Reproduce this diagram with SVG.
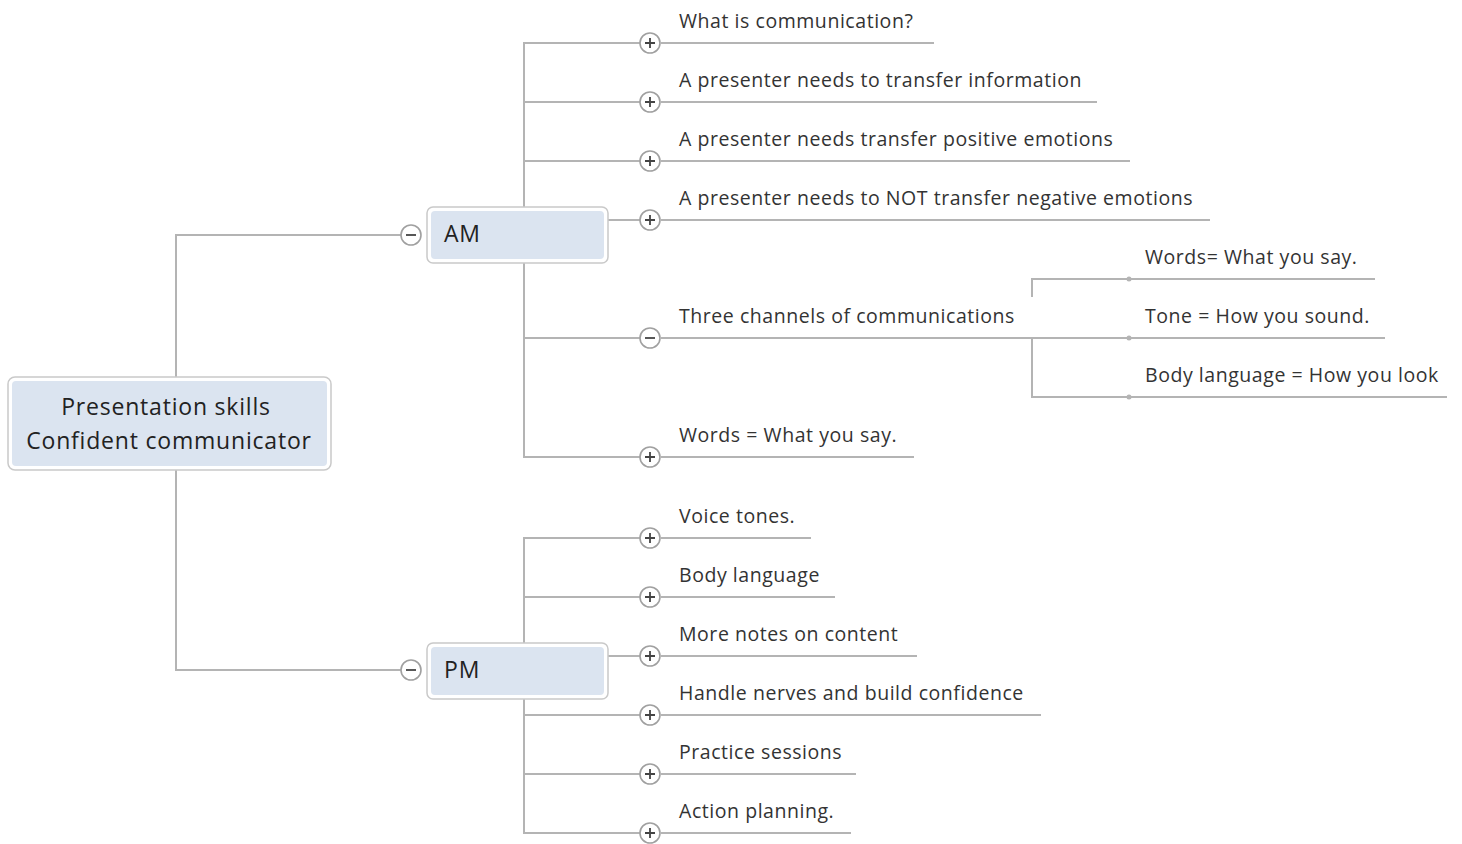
<svg xmlns="http://www.w3.org/2000/svg" width="1462" height="844" viewBox="0 0 1462 844">
<style>
.ln{stroke:#b4b4b4;stroke-width:2;fill:none}
.outer{fill:#ffffff;stroke:#c9c9c9;stroke-width:1.5}
.inner{fill:#dbe4f0;stroke:none}
.t{font-family:"Open Sans","Liberation Sans",sans-serif;font-size:19.5px;letter-spacing:0.55px;fill:#333333}
.big{font-family:"Open Sans","Liberation Sans",sans-serif;font-size:23px;letter-spacing:0.8px;fill:#222222}
.btn circle{fill:#ffffff;stroke:#a0a0a0;stroke-width:1.6}
.btn path{stroke:#444444;stroke-width:1.8;fill:none}
.dot{fill:#b4b4b4}
</style>
<defs>
<g id="plus" class="btn"><circle r="10"/><path d="M-5 0H5M0 -5V5"/></g>
<g id="minus" class="btn"><circle r="10"/><path d="M-5 0H5"/></g>
</defs>
<g id="connectors">
<path class="ln" d="M176 377V235H401M176 470V670H401"/>
<path class="ln" d="M524 207V43H640M524 102H640M524 161H640M608 220H640M524 263V457H640M524 338H640"/>
<path class="ln" d="M661 43H934M661 102H1097M661 161H1130M661 220H1210M661 338H1032M661 457H914"/>
<path class="ln" d="M1032 297V279H1375M1032 338V397H1447M1032 338H1385"/>
<path class="ln" d="M524 643V538H640M524 597H640M608 656H640M524 699V833H640M524 715H640M524 774H640"/>
<path class="ln" d="M661 538H811M661 597H835M661 656H917M661 715H1041M661 774H856M661 833H851"/>
<circle class="dot" cx="1129" cy="279" r="2.5"/>
<circle class="dot" cx="1129" cy="338" r="2.5"/>
<circle class="dot" cx="1129" cy="397" r="2.5"/>
</g>
<g id="root">
<rect class="outer" x="8" y="377" width="323" height="93" rx="7"/>
<rect class="inner" x="12" y="381" width="315" height="85" rx="4"/>
<text class="big" x="166" y="415" text-anchor="middle">Presentation skills</text>
<text class="big" x="169" y="449" text-anchor="middle">Confident communicator</text>
</g>
<g id="am">
<rect class="outer" x="427" y="207" width="181" height="56" rx="6"/>
<rect class="inner" x="431" y="211" width="173" height="48" rx="4"/>
<text class="big" x="444" y="242">AM</text>
<use href="#minus" x="411" y="235"/>
</g>
<g id="pm">
<rect class="outer" x="427" y="643" width="181" height="56" rx="6"/>
<rect class="inner" x="431" y="647" width="173" height="48" rx="4"/>
<text class="big" x="444" y="678">PM</text>
<use href="#minus" x="411" y="670"/>
</g>
<g id="am1"><use href="#plus" x="650" y="43"/><text class="t" x="679" y="28">What is communication?</text></g>
<g id="am2"><use href="#plus" x="650" y="102"/><text class="t" x="679" y="87">A presenter needs to transfer information</text></g>
<g id="am3"><use href="#plus" x="650" y="161"/><text class="t" x="679" y="146">A presenter needs transfer positive emotions</text></g>
<g id="am4"><use href="#plus" x="650" y="220"/><text class="t" x="679" y="205">A presenter needs to NOT transfer negative emotions</text></g>
<g id="am5"><use href="#minus" x="650" y="338"/><text class="t" x="679" y="323">Three channels of communications</text></g>
<g id="am5a"><text class="t" x="1145" y="264">Words= What you say.</text></g>
<g id="am5b"><text class="t" x="1145" y="323">Tone = How you sound.</text></g>
<g id="am5c"><text class="t" x="1145" y="382">Body language = How you look</text></g>
<g id="am6"><use href="#plus" x="650" y="457"/><text class="t" x="679" y="442">Words = What you say.</text></g>
<g id="pm1"><use href="#plus" x="650" y="538"/><text class="t" x="679" y="523">Voice tones.</text></g>
<g id="pm2"><use href="#plus" x="650" y="597"/><text class="t" x="679" y="582">Body language</text></g>
<g id="pm3"><use href="#plus" x="650" y="656"/><text class="t" x="679" y="641">More notes on content</text></g>
<g id="pm4"><use href="#plus" x="650" y="715"/><text class="t" x="679" y="700">Handle nerves and build confidence</text></g>
<g id="pm5"><use href="#plus" x="650" y="774"/><text class="t" x="679" y="759">Practice sessions</text></g>
<g id="pm6"><use href="#plus" x="650" y="833"/><text class="t" x="679" y="818">Action planning.</text></g>
</svg>
